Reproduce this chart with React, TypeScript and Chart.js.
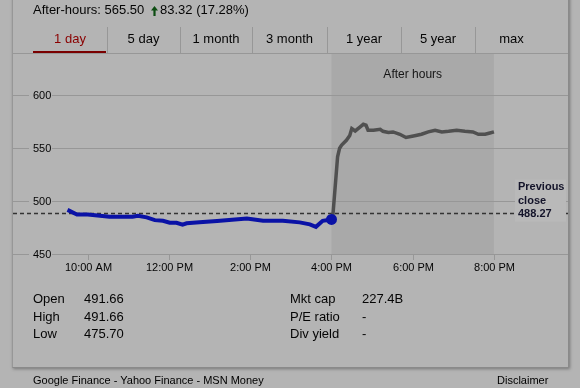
import React, { useEffect, useRef } from "react";
import { Chart, registerables } from "chart.js";

Chart.register(...registerables);

// ---- data ----
const marketMinutes = [570, 584, 600, 618, 632, 666, 674, 687, 699, 711, 721, 731, 740, 746, 765, 791, 835, 859, 888, 913, 928, 937, 947, 960];
const marketPrices = [491.66, 487.4, 487.4, 486.1, 485.2, 485.2, 486.1, 484.6, 482.0, 481.4, 479.5, 479.5, 477.7, 479.0, 479.9, 481.1, 483.6, 481.4, 481.4, 479.9, 478.0, 475.7, 481.4, 482.7];

const afterMinutes = [960, 962, 969, 972, 975, 982, 987, 990, 995, 1002, 1007, 1011, 1014, 1022, 1032, 1036, 1044, 1051, 1061, 1070, 1081, 1093, 1103, 1113, 1123, 1133, 1145, 1157, 1169, 1177, 1187, 1194, 1200];
const afterPrices = [482.7, 486.0, 541.8, 550.0, 553.0, 557.5, 562.0, 568.6, 566.3, 570.0, 572.6, 571.7, 567.0, 567.0, 567.9, 566.0, 564.8, 565.4, 563.2, 560.1, 561.6, 563.2, 565.4, 567.0, 565.4, 566.0, 567.0, 566.0, 565.4, 563.2, 563.2, 564.4, 565.5];

const yTicks = [450, 500, 550, 600];
const xTickMinutes = [600, 720, 840, 960, 1080, 1200];
const xTickLabels = ["10:00 AM", "12:00 PM", "2:00 PM", "4:00 PM", "6:00 PM", "8:00 PM"];

const previousClose = 488.27;
const afterHoursStart = 960;
const afterHoursEnd = 1200;

const tabs = ["1 day", "5 day", "1 month", "3 month", "1 year", "5 year", "max"];
const statsLeftLabels = ["Open", "High", "Low"];
const statsLeftValues = ["491.66", "491.66", "475.70"];
const statsRightLabels = ["Mkt cap", "P/E ratio", "Div yield"];
const statsRightValues = ["227.4B", "-", "-"];

const FONT = '"Liberation Sans", Arial, sans-serif';
const BG = "#b4b4b4";
const GRID = "#979797";
const TEXT = "#050505";

const decorPlugin = {
  id: "decor",
  beforeDatasetsDraw(chart: any) {
    const { ctx, chartArea, scales } = chart;
    const xs = scales.x;
    const ys = scales.y;
    ctx.save();

    // after-hours shading
    const x0 = xs.getPixelForValue(afterHoursStart);
    const x1 = xs.getPixelForValue(afterHoursEnd);
    ctx.fillStyle = "#a9a9a9";
    ctx.fillRect(x0, chartArea.top + 1, x1 - x0, chartArea.bottom - chartArea.top - 1);

    ctx.fillStyle = "#151515";
    ctx.font = `12px ${FONT}`;
    ctx.textAlign = "center";
    ctx.textBaseline = "middle";
    ctx.fillText("After hours", (x0 + x1) / 2, chartArea.top + 22);

    // horizontal gridlines
    ctx.strokeStyle = GRID;
    ctx.lineWidth = 1;
    yTicks.forEach((v) => {
      const py = Math.round(ys.getPixelForValue(v)) + 0.5;
      ctx.beginPath();
      ctx.moveTo(chartArea.left, py);
      ctx.lineTo(chartArea.right, py);
      ctx.stroke();
    });

    // y labels with backdrop
    ctx.font = `11px ${FONT}`;
    ctx.textAlign = "left";
    yTicks.forEach((v) => {
      const py = Math.round(ys.getPixelForValue(v)) + 0.5;
      ctx.fillStyle = BG;
      ctx.fillRect(chartArea.left + 17, py - 6, 23, 12);
      ctx.fillStyle = TEXT;
      ctx.fillText(String(v), chartArea.left + 21, py + 0.5);
    });

    // x ticks & labels
    ctx.textAlign = "center";
    xTickMinutes.forEach((m, i) => {
      const px = Math.round(xs.getPixelForValue(m)) + 0.5;
      ctx.strokeStyle = GRID;
      ctx.beginPath();
      ctx.moveTo(px, chartArea.bottom);
      ctx.lineTo(px, chartArea.bottom + 6);
      ctx.stroke();
      ctx.fillStyle = TEXT;
      ctx.fillText(xTickLabels[i], px, chartArea.bottom + 14);
    });

    // previous close dashed line
    const pc = ys.getPixelForValue(previousClose);
    ctx.strokeStyle = "#333333";
    ctx.lineWidth = 1.5;
    ctx.setLineDash([4, 3]);
    ctx.beginPath();
    ctx.moveTo(chartArea.left + 1, pc);
    ctx.lineTo(chartArea.right, pc);
    ctx.stroke();
    ctx.setLineDash([]);

    // previous close label
    ctx.fillStyle = "#b9b9b9";
    ctx.fillRect(515, pc - 34, 51, 42);
    ctx.fillStyle = "#14142a";
    ctx.font = `bold 11px ${FONT}`;
    ctx.textAlign = "left";
    ctx.fillText("Previous", 518, pc - 26.5);
    ctx.fillText("close", 518, pc - 13);
    ctx.fillText(previousClose.toFixed(2), 518, pc + 0.5);

    ctx.restore();
  },
};

function StockChart() {
  const ref = useRef<HTMLCanvasElement | null>(null);
  useEffect(() => {
    if (!ref.current) return;
    const afterData = afterMinutes.map((m, i) => ({ x: m, y: afterPrices[i] }));
    const marketData = marketMinutes.map((m, i) => ({ x: m, y: marketPrices[i] }));
    const chart = new Chart(ref.current, {
      type: "line",
      data: {
        datasets: [
          {
            data: afterData,
            borderColor: "#505050",
            borderWidth: 3.5,
            pointRadius: 0,
            tension: 0,
            order: 2,
          },
          {
            data: marketData,
            borderColor: "#0a12a6",
            backgroundColor: "#0a12a6",
            borderWidth: 4,
            pointRadius: (c: any) => (c.dataIndex === marketData.length - 1 ? 5.5 : 0),
            pointBorderWidth: 0,
            tension: 0,
            order: 1,
          },
        ],
      },
      options: {
        responsive: false,
        animation: false,
        devicePixelRatio: 1,
        layout: { padding: { left: 12, right: 12, top: 53, bottom: 134 } },
        plugins: { legend: { display: false }, tooltip: { enabled: false } },
        scales: {
          x: { type: "linear", min: 488, max: 1309.4, display: false },
          y: { type: "linear", min: 450, max: 640, display: false },
        },
      } as any,
      plugins: [decorPlugin],
    });
    return () => chart.destroy();
  }, []);
  return (
    <canvas
      ref={ref}
      width={580}
      height={388}
      style={{ position: "absolute", left: 0, top: 0, width: 580, height: 388, zIndex: 2 }}
    />
  );
}

const tabEdges = [33, 107, 180, 252, 327, 401, 475, 548];

export default function App() {
  const abs = (left: number, top: number, extra: any = {}) => ({
    position: "absolute" as const,
    left,
    top,
    whiteSpace: "nowrap" as const,
    ...extra,
  });
  return (
    <div
      style={{
        position: "fixed",
        left: 0,
        top: 0,
        width: 580,
        height: 388,
        overflow: "hidden",
        background: BG,
        fontFamily: FONT,
        color: TEXT,
        fontSize: 13,
      }}
    >
      {/* panel */}
      <div
        style={{
          position: "absolute",
          left: 12,
          top: -10,
          width: 555,
          height: 377,
          borderLeft: `1px solid ${GRID}`,
          borderRight: `1px solid #8a8a8a`,
          borderBottom: `1px solid #8a8a8a`,
          boxShadow: "1px 1px 3px rgba(0,0,0,0.35)",
          zIndex: 0,
        }}
      />
      {/* header */}
      <div style={abs(33, 2, { fontSize: 13, lineHeight: "16px", zIndex: 3 })}>After-hours: 565.50</div>
      <svg style={{ position: "absolute", left: 151, top: 6, zIndex: 3 }} width="7" height="10" viewBox="0 0 7 10">
        <path d="M3.5 0 L7 4.5 L4.6 4.5 L4.6 10 L2.4 10 L2.4 4.5 L0 4.5 Z" fill="#0d4d12" />
      </svg>
      <div style={abs(160, 2, { fontSize: 13, lineHeight: "16px", zIndex: 3 })}>83.32 (17.28%)</div>

      {/* tabs */}
      {tabs.map((t, i) => {
        const l = tabEdges[i];
        const r = tabEdges[i + 1];
        return (
          <div
            key={t}
            style={abs(l, 31, {
              width: r - l,
              textAlign: "center",
              lineHeight: "16px",
              fontSize: 13,
              color: i === 0 ? "#8a0000" : TEXT,
              zIndex: 3,
            })}
          >
            {t}
          </div>
        );
      })}
      {tabEdges.slice(1, 7).map((x) => (
        <div key={x} style={abs(x, 27, { width: 1, height: 26, background: GRID, zIndex: 3 })} />
      ))}
      <div style={abs(33, 51, { width: 73, height: 2, background: "#7a0000", zIndex: 3 })} />
      <div style={abs(12, 53, { width: 556, height: 1, background: GRID, zIndex: 3 })} />

      <StockChart />

      {/* stats */}
      {statsLeftLabels.map((l, i) => (
        <React.Fragment key={l}>
          <div style={abs(33, 291 + i * 17.7, { lineHeight: "16px", zIndex: 3 })}>{l}</div>
          <div style={abs(84, 291 + i * 17.7, { lineHeight: "16px", zIndex: 3 })}>{statsLeftValues[i]}</div>
        </React.Fragment>
      ))}
      {statsRightLabels.map((l, i) => (
        <React.Fragment key={l}>
          <div style={abs(290, 291 + i * 17.7, { lineHeight: "16px", zIndex: 3 })}>{l}</div>
          <div style={abs(362, 291 + i * 17.7, { lineHeight: "16px", zIndex: 3 })}>{statsRightValues[i]}</div>
        </React.Fragment>
      ))}

      {/* footer */}
      <div style={abs(33, 373, { fontSize: 11, lineHeight: "14px", color: "#000", zIndex: 3 })}>
        Google Finance - Yahoo Finance - MSN Money
      </div>
      <div style={abs(497, 373, { fontSize: 11, lineHeight: "14px", color: "#000", zIndex: 3 })}>Disclaimer</div>
    </div>
  );
}
